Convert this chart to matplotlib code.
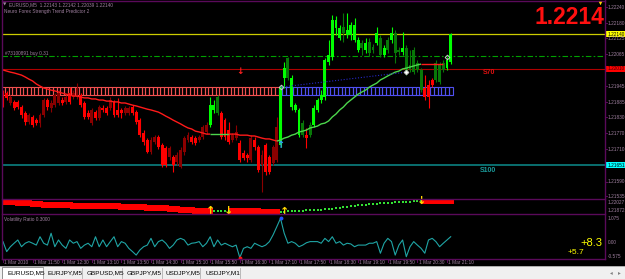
import numpy as np
import matplotlib
matplotlib.use("Agg")
import matplotlib.pyplot as plt
from matplotlib.patches import Rectangle

plt.rcParams['font.family'] = ['Liberation Sans', 'DejaVu Sans']

# ---------------- data (prices in 1e-5 units) ----------------
opens = [121920, 121920, 121883, 121887, 121887, 121868, 121846, 121812, 121831, 121819,
         121808, 121838, 121894, 121864, 121875, 121883, 121894, 121887, 121920, 121905,
         121905, 121913, 121883, 121846, 121808, 121849, 121827, 121864, 121864, 121864,
         121887, 121857, 121857, 121846, 121846, 121868, 121849, 121819, 121771, 121745,
         121700, 121737, 121756, 121726, 121715, 121681, 121681, 121663, 121644, 121700,
         121745, 121756, 121752, 121745, 121756, 121775, 121801, 121857, 121905, 121846,
         121819, 121782, 121745, 121752, 121734, 121696, 121689, 121670, 121745, 121719,
         121652, 121726, 121681, 121659, 121670, 121726, 121976, 122051, 121868, 121857,
         121763, 121808, 121763, 121801, 121801, 121857, 121894, 121905, 122036, 122054,
         122163, 122125, 122166, 122136, 122136, 122118, 122081, 122107, 122081, 122110,
         122092, 122107, 122125, 122062, 122118, 122118, 122144, 122081, 122073, 122088,
         122025, 122081, 122032, 122006, 121939, 121950, 121969, 122032, 122025, 122032,
         122013, 122036]
highs = [121931, 121928, 121913, 121894, 121894, 121875, 121853, 121846, 121838, 121827,
         121846, 121902, 121902, 121894, 121920, 121931, 121905, 121913, 121942, 121931,
         121957, 121920, 121890, 121857, 121864, 121857, 121875, 121875, 121872, 121905,
         121894, 121902, 121864, 121872, 121872, 121875, 121857, 121827, 121782, 121752,
         121756, 121763, 121763, 121734, 121722, 121722, 121689, 121700, 121719, 121760,
         121775, 121763, 121760, 121763, 121801, 121812, 121905, 121894, 121913, 121853,
         121827, 121812, 121771, 121801, 121745, 121708, 121696, 121763, 121756, 121726,
         121708, 121734, 121689, 121726, 121831, 121950, 122036, 122054, 121987, 121883,
         121864, 121819, 121790, 121812, 121875, 121902, 121931, 122051, 122118, 122211,
         122207, 122174, 122219, 122219, 122185, 122200, 122129, 122118, 122125, 122125,
         122103, 122166, 122136, 122099, 122129, 122166, 122155, 122092, 122148, 122099,
         122081, 122092, 122043, 122013, 121987, 121969, 121976, 122043, 122036, 122043,
         122054, 122144]
lows = [121868, 121894, 121875, 121857, 121860, 121827, 121801, 121805, 121793, 121801,
        121793, 121831, 121857, 121849, 121868, 121875, 121875, 121879, 121879, 121898,
        121898, 121868, 121823, 121823, 121801, 121819, 121819, 121849, 121838, 121857,
        121831, 121831, 121827, 121838, 121838, 121838, 121805, 121756, 121726, 121696,
        121693, 121730, 121711, 121644, 121644, 121670, 121625, 121652, 121640, 121689,
        121737, 121730, 121726, 121737, 121749, 121767, 121793, 121846, 121838, 121749,
        121745, 121730, 121737, 121745, 121663, 121670, 121663, 121663, 121708, 121625,
        121551, 121614, 121618, 121652, 121663, 121719, 121939, 121969, 121857, 121849,
        121756, 121756, 121715, 121756, 121793, 121849, 121883, 121894, 122025, 122043,
        122136, 122118, 122110, 122125, 122118, 122110, 122073, 122062, 122069, 122058,
        122069, 122099, 122054, 122054, 122069, 122107, 122032, 122062, 122062, 121987,
        121998, 121991, 121998, 121924, 121894, 121864, 121942, 121961, 121954, 121998,
        122006, 122028]
closes = [121905, 121902, 121905, 121864, 121868, 121838, 121812, 121838, 121801, 121808,
          121838, 121894, 121868, 121883, 121913, 121920, 121883, 121905, 121887, 121920,
          121939, 121875, 121831, 121831, 121857, 121827, 121868, 121857, 121846, 121894,
          121838, 121838, 121846, 121864, 121864, 121846, 121812, 121763, 121737, 121700,
          121745, 121756, 121719, 121652, 121652, 121715, 121652, 121689, 121708, 121752,
          121763, 121737, 121734, 121756, 121793, 121801, 121875, 121875, 121846, 121756,
          121756, 121737, 121763, 121775, 121670, 121678, 121678, 121752, 121719, 121633,
          121689, 121625, 121625, 121719, 121793, 121942, 122013, 121976, 121976, 121875,
          121857, 121763, 121752, 121763, 121864, 121894, 121913, 122043, 122062, 122192,
          122192, 122163, 122144, 122155, 122174, 122174, 122118, 122088, 122107, 122069,
          122081, 122144, 122062, 122088, 122081, 122144, 122069, 122073, 122088, 121998,
          122006, 121998, 122006, 121931, 121905, 121905, 121950, 121969, 121961, 122006,
          122043, 122140]
# candle colour regime (runs of trend state)
trend_runs = [("d", 56), ("u", 3), ("d", 16), ("u", 7), ("d", 1), ("u", 31), ("d", 3), ("u", 5)]

# trend moving average (per bar) and its state runs
ma_vals = [122006, 122002, 121998, 121995, 121991, 121987, 121980, 121972, 121965, 121954,
           121946, 121939, 121935, 121931, 121928, 121924, 121920, 121916, 121913, 121909,
           121909, 121905, 121902, 121902, 121898, 121898, 121894, 121894, 121890, 121890,
           121887, 121887, 121883, 121883, 121879, 121875, 121872, 121868, 121864, 121860,
           121857, 121853, 121849, 121842, 121834, 121827, 121819, 121812, 121805, 121797,
           121790, 121786, 121778, 121775, 121771, 121767, 121767, 121767, 121767, 121767,
           121767, 121767, 121767, 121767, 121763, 121763, 121763, 121760, 121760, 121756,
           121752, 121749, 121749, 121745, 121741, 121745, 121752, 121756, 121763, 121767,
           121775, 121778, 121782, 121790, 121793, 121797, 121805, 121808, 121816, 121831,
           121842, 121857, 121868, 121883, 121894, 121905, 121916, 121924, 121931, 121942,
           121950, 121957, 121969, 121976, 121984, 121991, 121998, 122002, 122010, 122013,
           122017, 122021, 122025, 122028, 122028, 122028, 122028, 122028, 122028, 122028,
           122028, 122028]
ma_runs = [("d", 57), ("u", 5), ("d", 13), ("u", 39), ("d", 8)]
ma_last_bar = 119

# levels
bid_price = 1.22140
order_price = 1.22058
order_label = "#73100891 buy 0.31"
resist_price = 1.22010
support_price = 1.21651
zone_top, zone_bottom, zone_split = 1.21942, 1.21913, 75
trendline_bars = [75, 109]
trendline_prices = [1.21942, 1.21998]
diamond_bars = [75, 109, 120]
diamond_prices = [1.21942, 1.21998, 1.22054]
sell_arrow = (64, 1.22002)
buy_arrow = (75, 1.21726)
signal_bars = [56, 61, 76, 113]
signal_dirs = ["up", "down", "up", "down"]

# volatility ratio
vol = [0.06, -0.37, -0.16, -0.01, 0.13, -0.16, -0.01, 0.06, -0.01, -0.09,
       0.27, -0.01, -0.09, 0.42, -0.16, 0.13, -0.09, -0.23, 0.13, -0.01,
       0.06, -0.23, -0.09, -0.01, -0.16, 0.27, -0.16, 0.13, -0.16, 0.06,
       0.27, -0.16, 0.06, -0.01, -0.23, -0.37, -0.52, -0.30, -0.16, -0.09,
       0.20, -0.16, 0.06, 0.13, -0.01, -0.23, -0.09, 0.13, 0.20, 0.13,
       -0.09, -0.01, 0.01, 0.06, -0.16, -0.01, 0.27, -0.16, 0.13, -0.09,
       -0.01, -0.09, -0.16, -0.09, -0.63, -0.23, -0.16, -0.23, -0.01, -0.09,
       -0.16, -0.09, 0.06, 0.35, 0.70, 1.06, 0.42, -0.01, 0.06, -0.01,
       -0.16, -0.09, 0.01, 0.06, 0.06, 0.06, -0.01, 0.20, 0.06, 0.27,
       -0.01, 0.06, -0.09, -0.01, -0.04, -0.16, -0.09, -0.09, -0.09, -0.01,
       -0.01, 0.06, -0.44, -0.01, 0.20, 0.06, -0.52, -0.09, 0.13, -0.59,
       -0.16, 0.06, -0.09, -0.23, -0.44, 0.13, 0.20, 0.06, -0.16, -0.01,
       0.13, 0.27]
vol_low_bar, vol_high_bar = 64, 75

price_ticks = [1.22240, 1.22180, 1.22125, 1.22065, 1.21945, 1.21885, 1.21830,
               1.21770, 1.21710, 1.21590, 1.21535]
time_labels = ["1 Mar 2010", "1 Mar 11:50", "1 Mar 12:30", "1 Mar 13:10", "1 Mar 13:50",
               "1 Mar 14:30", "1 Mar 15:10", "1 Mar 15:50", "1 Mar 16:30", "1 Mar 17:10",
               "1 Mar 17:50", "1 Mar 18:30", "1 Mar 19:10", "1 Mar 19:50", "1 Mar 20:30",
               "1 Mar 21:10"]
tabs = ["EURUSD,M5", "EURJPY,M5", "GBPUSD,M5", "GBPJPY,M5", "USDJPY,M5", "USDJPY,M1"]

# ---------------- figure ----------------
W, H = 625, 279
fig = plt.figure(figsize=(W / 100, H / 100), dpi=100, facecolor="black")


def box(x0, y0, x1, y1):
    return [x0 / W, 1 - y1 / H, (x1 - x0) / W, (y1 - y0) / H]


BAR0, PITCH = 3.0, 3.7
XL = ((2 - BAR0) / PITCH, (605 - BAR0) / PITCH)
P_TOP, P_BOT = 1.22267, 1.21525

o = np.array(opens) / 1e5
h = np.array(highs) / 1e5
l = np.array(lows) / 1e5
c = np.array(closes) / 1e5
bars = np.arange(len(c))
trend = "".join(s * n for s, n in trend_runs)
ma = np.array(ma_vals) / 1e5
ma_state = "".join(s * n for s, n in ma_runs)

ax = fig.add_axes(box(2, 0, 605, 199))
ax.set_xlim(*XL)
ax.set_ylim(P_BOT, P_TOP)
ax.set_axis_off()

# zone band
band_cols = ["#F05050" if i < zone_split else "#5050F0" for i in bars]
ax.bar(bars, zone_top - zone_bottom, bottom=zone_bottom, width=1.0,
       facecolor="none", edgecolor=band_cols, linewidth=0.8, zorder=1)

# horizontal levels
ax.axhline(bid_price, color="#CCCC00", lw=0.9, zorder=1)
ax.axhline(order_price, color="#00A000", lw=0.8, ls=(0, (5, 2, 1.5, 2)), zorder=1)
ax.axhline(resist_price, color="#B00000", lw=0.8, zorder=1)
ax.axhline(support_price, color="#0A6E6E", lw=1.4, zorder=1)

# candles
cols = []
for i in bars:
    up = c[i] >= o[i]
    if trend[i] == "u":
        cols.append("#00FF00" if up else "#087808")
    else:
        cols.append("#8B0000" if up else "#FF0000")
ax.vlines(bars, l, h, colors=cols, lw=0.8, zorder=2)
ax.bar(bars, np.maximum(np.abs(c - o), 0.00004), bottom=np.minimum(o, c), width=0.8,
       color=cols, linewidth=0, zorder=3)

# moving average coloured by state
start = 0
for s, n in ma_runs:
    end = min(start + n, ma_last_bar + 1)
    a = max(start - 1, 0)
    if end > a:
        ax.plot(bars[a:end], ma[a:end], color="#FF1A1A" if s == "d" else "#4CD64C",
                lw=1.0, zorder=4, solid_capstyle="butt")
    start += n

# trend line and markers
ax.plot(trendline_bars, trendline_prices, color="#2828C8", lw=0.8, ls=(0, (1, 1.6)), zorder=4)
for b, p, fc in zip(diamond_bars, diamond_prices, ["none", "white", "none"]):
    ax.plot(b, p, "D", ms=2.4, mfc=fc, mec="#C8C8C8", mew=0.7, zorder=5)
ax.text(sell_arrow[0], sell_arrow[1], "↓", color="#FF2020", fontsize=6.5, fontweight="bold",
        ha="center", va="center", family="DejaVu Sans", zorder=5)
ax.text(buy_arrow[0], buy_arrow[1], "↑", color="#3399FF", fontsize=7, fontweight="bold",
        ha="center", va="center", family="DejaVu Sans", zorder=5)

# ---- panel 2: trend dots ----
ax2 = fig.add_axes(box(2, 199, 605, 214))
ax2.set_xlim(*XL)
ax2.set_ylim(1.21688, 1.22085)
ax2.set_axis_off()
dn = np.array([s == "d" for s in ma_state])
ax2.plot(bars[dn], ma[dn], "s", ms=4.0, color="#FF0000", mew=0, ls="none")
ax2.plot(bars[~dn], ma[~dn], "s", ms=1.7, color="#33E033", mew=0, ls="none")
for b, d in zip(signal_bars, signal_dirs):
    ax2.text(b, ma[b], "↑" if d == "up" else "↓", color="#FFD700", fontsize=8,
             fontweight="bold", ha="center", va="center", family="DejaVu Sans")

# ---- panel 3: volatility ratio ----
ax3 = fig.add_axes(box(2, 214, 605, 259))
ax3.set_xlim(*XL)
ax3.set_ylim(-0.688, 1.247)
ax3.set_axis_off()
ax3.plot(bars, vol, color="#1FA5A5", lw=0.8)
ax3.plot(vol_low_bar, vol[vol_low_bar], "o", ms=2.8, color="#FF1010", mew=0)
ax3.plot(vol_high_bar, vol[vol_high_bar], "o", ms=2.8, color="#2050FF", mew=0)

# ---- overlay in pixel coordinates ----
ov = fig.add_axes([0, 0, 1, 1])
ov.set_xlim(0, W)
ov.set_ylim(H, 0)
ov.set_axis_off()

PUR = "#5A0A5A"
LBL = "#A080A0"
for y in (1, 199, 214, 259):
    ov.plot([2, 605], [y, y], color=PUR, lw=1.0)
ov.plot([2, 2], [0, 259], color=PUR, lw=1.0)
ov.plot([605, 605], [0, 259], color=PUR, lw=1.0)


def ypx(p):
    return (P_TOP - p) / (P_TOP - P_BOT) * 199


for p in price_ticks:
    y = ypx(p)
    ov.plot([605, 607], [y, y], color=PUR, lw=0.7)
    ov.text(608, y, f"{p:.5f}", color=LBL, fontsize=3.4, va="center", ha="left")
for txt, y in [("1.22027", 203), ("1.21872", 210), ("1.075", 218), ("0.00", 243), ("-0.575", 256.5)]:
    ov.text(608, y, txt, color=LBL, fontsize=3.4, va="center", ha="left")

for p, fc, tc in [(bid_price, "#FFFF00", "black"), (resist_price, "#FF0000", "#400000"),
                  (support_price, "#00FFFF", "black")]:
    y = ypx(p)
    ov.add_patch(Rectangle((606, y - 3), 19, 6, facecolor=fc, edgecolor="none"))
    ov.text(608, y, f"{p:.5f}", color=tc, fontsize=3.4, va="center", ha="left")

# time axis
for i, t in enumerate(time_labels):
    x = BAR0 + PITCH * 8 * i
    ov.plot([x, x], [259, 262], color=PUR, lw=0.7)
    ov.text(x + 1.2, 263, t, color=LBL, fontsize=3.4, va="center", ha="left")

# texts
ov.text(3, 5, "▼", color=LBL, fontsize=3.2, va="center", ha="left", family="DejaVu Sans")
ov.text(9, 5, "EURUSD,M5  1.22143 1.22142 1.22039 1.22140", color=LBL, fontsize=3.4,
        va="center", ha="left")
ov.text(4, 11, "Neuro Forex Strength Trend Predictor 2", color=LBL, fontsize=3.4,
        va="center", ha="left")
ov.text(5, 53, order_label, color=LBL, fontsize=3.4, va="center", ha="left")
ov.text(4, 219, "Volatility Ratio 0.3000", color=LBL, fontsize=3.4, va="center", ha="left")
ov.text(604, 17, "1.2214", color="#FF1010", fontsize=16.5, fontweight="bold",
        va="center", ha="right")
ov.plot(600, 3, "v", ms=2.5, color="#FFD700", mew=0)
ov.text(483, 73, "S70", color="#E01010", fontsize=5, fontweight="bold", va="center", ha="left")
ov.text(480, 170, "S100", color="#1A9A9A", fontsize=5, fontweight="bold", va="center", ha="left")
ov.text(602, 243, "+8.3", color="#FFFF00", fontsize=8, va="center", ha="right")
ov.text(584, 252, "+5.7", color="#FFFF00", fontsize=6, va="center", ha="right")

# tabs bar
ov.add_patch(Rectangle((0, 266), W, 13, facecolor="#F0F0F0", edgecolor="none"))
ov.plot([0, W], [266, 266], color="#A0A0A0", lw=0.6)
ov.add_patch(Rectangle((2, 267), 41, 12, facecolor="white", edgecolor="#808080", lw=0.6))
tab_x = [7, 48, 87, 127, 166, 205]
sep_x = [43, 82, 122, 162, 200, 240]
for t, x, sx in zip(tabs, tab_x, sep_x):
    ov.text(x, 273, t, color="black", fontsize=4.6, va="center", ha="left")
    ov.plot([sx, sx], [268, 278], color="#B0B0B0", lw=0.6)
ov.text(611, 273, "◂", color="#808080", fontsize=4, va="center", ha="center", family="DejaVu Sans")
ov.text(619, 273, "▸", color="#808080", fontsize=4, va="center", ha="center", family="DejaVu Sans")

fig.savefig("out.png", dpi=100, facecolor="black")
